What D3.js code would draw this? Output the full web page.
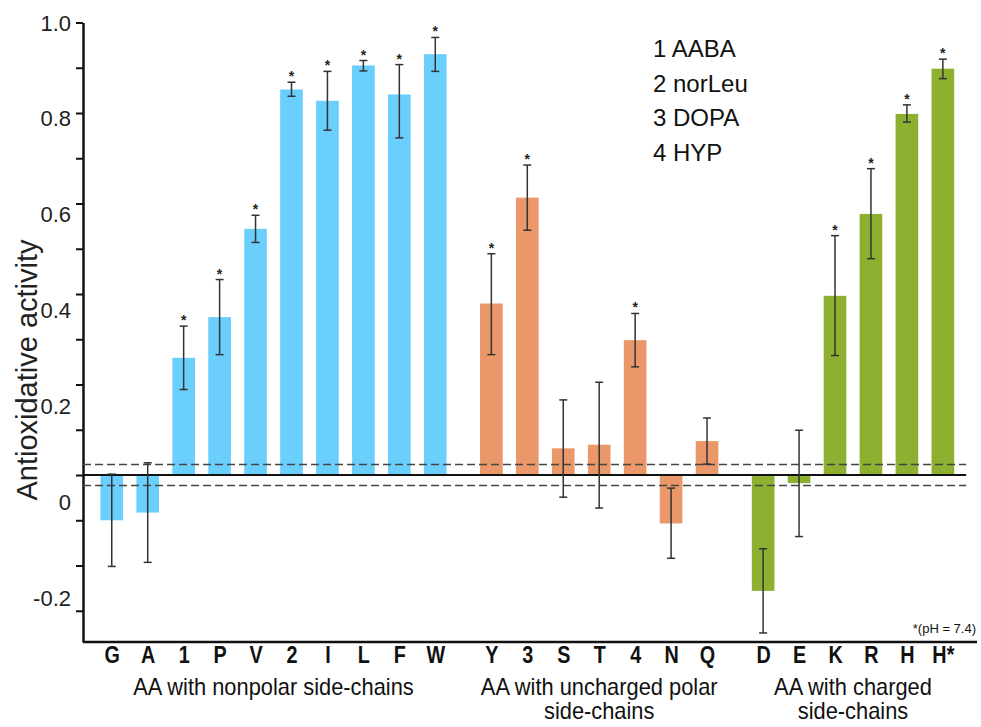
<!DOCTYPE html>
<html>
<head>
<meta charset="utf-8">
<script src="https://cdn.jsdelivr.net/npm/d3@7"></script>
<style>
  body { margin: 0; background: #fff; }
  svg { display: block; font-family: "Liberation Sans", Arial, sans-serif; }
</style>
</head>
<body>
<div id="chart"></div>
<script>
// data
const categories = ['G', 'A', '1', 'P', 'V', '2', 'I', 'L', 'F', 'W', 'Y', '3', 'S', 'T', '4', 'N', 'Q', 'D', 'E', 'K', 'R', 'H', 'H*'];
const groupOf    = [0, 0, 0, 0, 0, 0, 0, 0, 0, 0, 1, 1, 1, 1, 1, 1, 1, 2, 2, 2, 2, 2, 2];
const values     = [-0.100, -0.083, 0.259, 0.349, 0.544, 0.852, 0.827, 0.905, 0.841, 0.930, 0.379, 0.613, 0.059, 0.067, 0.298, -0.107, 0.075, -0.256, -0.018, 0.396, 0.577, 0.798, 0.898];
const errUp      = [0.102, 0.110, 0.070, 0.083, 0.030, 0.016, 0.065, 0.011, 0.066, 0.037, 0.110, 0.072, 0.107, 0.138, 0.059, 0.078, 0.051, 0.093, 0.117, 0.133, 0.100, 0.020, 0.021];
const errDown    = [0.102, 0.110, 0.070, 0.083, 0.030, 0.015, 0.065, 0.012, 0.096, 0.038, 0.113, 0.072, 0.108, 0.140, 0.059, 0.077, 0.051, 0.093, 0.118, 0.132, 0.099, 0.018, 0.022];
const significant = [0, 0, 1, 1, 1, 1, 1, 1, 1, 1, 1, 1, 0, 0, 1, 0, 0, 0, 0, 1, 1, 1, 1];

const groupNames = [
  ['AA with nonpolar side-chains'],
  ['AA with uncharged polar', 'side-chains'],
  ['AA with charged', 'side-chains']
];
const groupColors = ['#6bcffd', '#ea986a', '#8db030'];
const legendLines = ['1 AABA', '2 norLeu', '3 DOPA', '4 HYP'];
const yLabelTicks = [-0.2, 0, 0.2, 0.4, 0.6, 0.8, 1.0];
const yMinorTicks = d3.range(-3, 11).map(d => d / 10);
const noiseBand = 0.023;   // dashed lines around zero

const width = 981, height = 727;
const plotLeft = 83, plotRight = 977, plotTop = 22.5, plotBottom = 642;
const groupGap = 0.56;     // extra slots between groups
const narrow = 0.86;       // horizontal squeeze for the condensed labels

const svg = d3.select('#chart').append('svg')
  .attr('width', width)
  .attr('height', height);

// slot position of each bar (index plus group gaps)
const slots = categories.map((c, i) => i + groupOf[i] * groupGap);
const lastSlot = slots[slots.length - 1];

const x = d3.scaleLinear().domain([-0.8, lastSlot + 0.95]).range([plotLeft, plotRight]);
const y = d3.scaleLinear().domain([-0.369, 1.0]).range([plotBottom, plotTop]);
// the printed tick labels drift below their ticks in the original figure
const yLabel = d3.scaleLinear().domain([-0.2, 1.0]).range([598, 23]);
const barW = (x(1) - x(0)) * 0.63;

// y axis ticks
svg.append('g')
  .attr('transform', `translate(${plotLeft},0)`)
  .call(d3.axisLeft(y).tickValues(yMinorTicks).tickSize(7).tickSizeOuter(0).tickFormat(''))
  .call(g => g.selectAll('line').attr('stroke', '#111').attr('stroke-width', 2))
  .call(g => g.select('.domain').attr('stroke', '#111').attr('stroke-width', 2.5));

// y axis labels
svg.append('g')
  .attr('transform', `translate(${plotLeft},0)`)
  .call(d3.axisLeft(yLabel).tickValues(yLabelTicks).tickSize(0).tickPadding(12)
    .tickFormat(d => d === 0 ? '0' : d.toFixed(1)))
  .call(g => g.select('.domain').remove())
  .call(g => g.selectAll('text')
    .attr('font-family', '"Liberation Sans", Arial, sans-serif')
    .attr('font-size', 22)
    .attr('fill', '#222'));

// y title
svg.append('text')
  .attr('transform', `translate(37,${(238 + 502) / 2}) rotate(-90)`)
  .attr('text-anchor', 'middle')
  .attr('font-size', 29)
  .attr('fill', '#222')
  .text('Antioxidative activity');

// bottom frame line
svg.append('line')
  .attr('x1', plotLeft).attr('x2', plotRight)
  .attr('y1', plotBottom).attr('y2', plotBottom)
  .attr('stroke', '#111').attr('stroke-width', 2.5);

// bars
svg.append('g').selectAll('rect')
  .data(values)
  .enter()
  .append('rect')
  .attr('x', (d, i) => x(slots[i]) - barW / 2)
  .attr('y', d => y(Math.max(0, d)))
  .attr('width', barW)
  .attr('height', d => Math.abs(y(d) - y(0)))
  .attr('fill', (d, i) => groupColors[groupOf[i]]);

// zero line and dashed band
const lineEnd = x(lastSlot) + barW / 2 + 12;
svg.append('line')
  .attr('x1', plotLeft).attr('x2', lineEnd)
  .attr('y1', y(0)).attr('y2', y(0))
  .attr('stroke', '#111').attr('stroke-width', 2);

[noiseBand, -noiseBand].forEach(v => {
  svg.append('line')
    .attr('x1', plotLeft).attr('x2', lineEnd)
    .attr('y1', y(v)).attr('y2', y(v))
    .attr('stroke', '#444')
    .attr('stroke-width', 1.5)
    .attr('stroke-dasharray', '8,4');
});

// error bars
const err = svg.append('g').selectAll('g')
  .data(values)
  .enter()
  .append('g')
  .attr('stroke', '#333')
  .attr('stroke-width', 1.5);

err.append('line')
  .attr('x1', (d, i) => x(slots[i])).attr('x2', (d, i) => x(slots[i]))
  .attr('y1', (d, i) => y(d + errUp[i]))
  .attr('y2', (d, i) => y(d - errDown[i]));

err.append('line')
  .attr('x1', (d, i) => x(slots[i]) - 4).attr('x2', (d, i) => x(slots[i]) + 4)
  .attr('y1', (d, i) => y(d + errUp[i])).attr('y2', (d, i) => y(d + errUp[i]));

err.append('line')
  .attr('x1', (d, i) => x(slots[i]) - 4).attr('x2', (d, i) => x(slots[i]) + 4)
  .attr('y1', (d, i) => y(d - errDown[i])).attr('y2', (d, i) => y(d - errDown[i]));

// significance stars
svg.append('g').selectAll('text')
  .data(values.map((d, i) => ({ v: d, i })).filter(d => significant[d.i]))
  .enter()
  .append('text')
  .attr('x', d => x(slots[d.i]))
  .attr('y', d => y(d.v + errUp[d.i]) - 1)
  .attr('text-anchor', 'middle')
  .attr('font-size', 14)
  .attr('font-weight', 'bold')
  .attr('fill', '#222')
  .text('*');

// category labels
svg.append('g')
  .attr('transform', `translate(0,${plotBottom})`)
  .call(d3.axisBottom(x).tickValues(slots).tickSize(0).tickPadding(5)
    .tickFormat((d, i) => categories[i]))
  .call(g => g.select('.domain').remove())
  .call(g => g.selectAll('text')
    .attr('transform', `scale(${narrow},1)`)
    .attr('font-family', '"Liberation Sans", Arial, sans-serif')
    .attr('font-size', 23)
    .attr('font-weight', 'bold')
    .attr('fill', '#111'));

// group labels
groupNames.forEach((lines, gi) => {
  const members = slots.filter((s, i) => groupOf[i] === gi);
  const cx = (x(d3.min(members)) + x(d3.max(members))) / 2;
  lines.forEach((line, li) => {
    svg.append('text')
      .attr('transform', `translate(${cx},${695 + li * 24}) scale(0.95,1)`)
      .attr('text-anchor', 'middle')
      .attr('font-size', 23)
      .attr('fill', '#111')
      .text(line);
  });
});

// legend of the numbered residues
svg.append('g').selectAll('text')
  .data(legendLines)
  .enter()
  .append('text')
  .attr('x', 653)
  .attr('y', (d, i) => 57 + i * 34.5)
  .attr('font-size', 24)
  .attr('fill', '#111')
  .text(d => d);

// footnote
svg.append('text')
  .attr('x', 976)
  .attr('y', 633)
  .attr('text-anchor', 'end')
  .attr('font-size', 13)
  .attr('fill', '#111')
  .text('*(pH = 7.4)');
</script>
</body>
</html>
